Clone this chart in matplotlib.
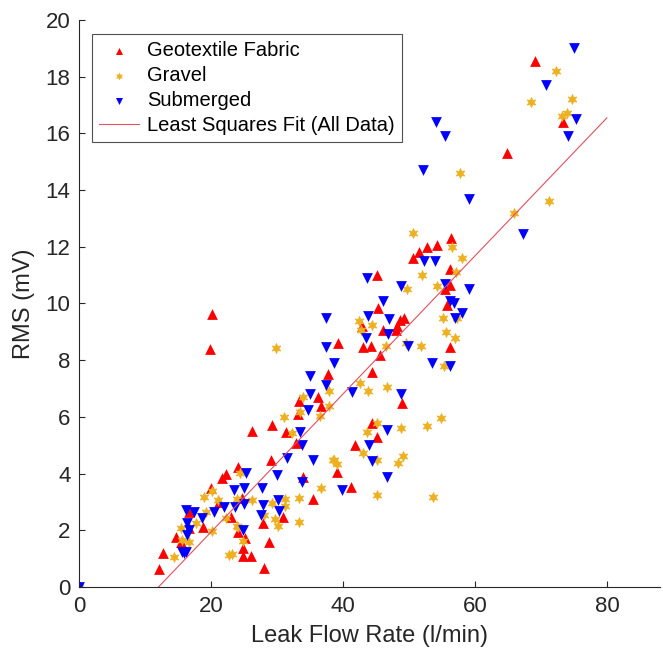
import numpy as np
import matplotlib.pyplot as plt

plt.rcParams['font.family'] = ['Liberation Sans', 'DejaVu Sans']

# Geotextile Fabric
geo_x = [0, 20.2, 19.8, 69.1, 73.3, 64.8, 56.4, 54.2, 52.7, 51.5, 50.6, 56.2, 56.2, 55.5,
         55.8, 56.2, 45.2, 45.3, 49.2, 48.6, 48.2, 48.0, 46.1, 42.9, 43.0, 44.2, 39.2, 45.6,
         44.4, 37.7, 36.2, 48.9, 33.3, 36.7, 33.2, 26.2, 29.2, 31.4, 32.9, 29.1, 24.1, 22.3,
         39.1, 33.9, 21.7, 44.4, 45.2, 41.8, 41.2, 35.5, 24.7, 30.9, 27.9, 23.0, 25.2, 28.8,
         24.8, 24.8, 26.1, 28.0, 24.1, 20.0, 21.2, 18.8, 14.7, 15.5, 12.7, 12.1, 16.7, 16.7]
geo_y = [0, 9.63, 8.4, 18.55, 16.4, 15.3, 12.3, 12.06, 12.0, 11.8, 11.6, 11.2, 10.65, 10.5,
         9.95, 8.47, 11.0, 9.84, 9.5, 9.4, 9.2, 9.07, 9.07, 9.2, 8.47, 8.5, 8.6, 8.2,
         7.6, 7.5, 6.7, 6.5, 6.56, 6.4, 6.1, 5.5, 5.7, 5.47, 5.08, 4.48, 4.23, 3.99,
         4.06, 3.9, 3.85, 5.8, 5.3, 5.0, 3.53, 3.1, 3.14, 2.47, 2.26, 2.47, 1.73, 1.59,
         1.38, 1.09, 1.09, 0.67, 1.94, 3.49, 3.0, 2.12, 1.76, 1.59, 1.2, 0.63, 2.65, 2.1]

# Gravel
grav_x = [0, 72.3, 68.5, 74.7, 73.2, 73.9, 57.7, 71.2, 65.9, 56.5, 58.0, 57.1, 54.2, 55.2,
          55.6, 57.0, 57.3, 50.6, 52.0, 49.7, 42.4, 42.7, 44.4, 46.5, 49.5, 51.8, 55.3, 42.6,
          43.8, 46.7, 37.9, 33.9, 54.8, 52.7, 48.8, 49.1, 48.3, 53.6, 32.3, 43.6, 45.2, 43.0,
          38.6, 39.1, 45.2, 36.7, 45.2, 24.4, 33.3, 31.2, 26.2, 29.2, 31.2, 23.9, 28.0, 29.7,
          30.2, 33.3, 24.1, 24.8, 23.2, 29.8, 33.5, 31.1, 37.9, 36.5, 38.5, 18.9, 20.2, 21.1,
          19.2, 17.7, 22.3, 15.5, 15.6, 16.7, 14.4, 20.2, 22.7, 23.9]
grav_y = [0, 18.2, 17.1, 17.2, 16.6, 16.7, 14.6, 13.6, 13.2, 12.0, 11.6, 11.1, 10.6, 9.5,
          9.0, 8.8, 9.5, 12.5, 11.0, 10.5, 9.38, 9.07, 9.24, 8.5, 8.6, 8.5, 7.8, 7.2,
          6.9, 7.05, 6.9, 6.7, 5.96, 5.68, 5.6, 4.62, 4.37, 3.17, 5.43, 5.47, 5.8, 4.73,
          4.48, 4.34, 4.48, 3.49, 3.24, 4.02, 3.14, 3.1, 3.07, 2.96, 2.86, 3.1, 2.54, 2.4,
          2.15, 2.3, 2.12, 1.62, 1.16, 8.43, 6.17, 6.0, 6.38, 6.03, 4.5, 3.18, 3.39, 3.07,
          2.65, 2.26, 2.43, 2.08, 1.66, 1.59, 1.06, 1.98, 1.13, 2.15]

# Submerged
sub_x = [0, 75.0, 70.8, 75.3, 74.1, 59.1, 67.3, 53.9, 55.5, 59.1, 56.2, 56.8, 58.0, 57.0,
         54.1, 55.5, 52.1, 52.3, 43.6, 48.8, 46.1, 37.4, 43.8, 47.0, 46.8, 43.5, 37.4, 49.8,
         38.6, 53.5, 56.2, 35.0, 37.4, 41.4, 35.0, 48.8, 33.5, 33.8, 31.5, 35.5, 43.9, 46.7,
         44.4, 30.0, 33.8, 46.7, 39.8, 25.3, 27.7, 23.5, 25.0, 23.6, 25.0, 27.9, 30.2, 30.3,
         27.6, 24.8, 34.7, 22.0, 20.5, 18.6, 17.4, 16.2, 16.4, 16.4, 15.6, 16.2, 16.7, 16.0]
sub_y = [0, 19.0, 17.7, 16.5, 15.9, 13.7, 12.45, 11.5, 10.7, 10.5, 10.1, 10.0, 9.67, 9.5,
         16.4, 15.9, 14.7, 11.5, 10.9, 10.6, 10.1, 9.5, 9.56, 9.45, 8.92, 8.8, 8.47, 8.5,
         7.9, 7.9, 7.8, 7.44, 7.13, 6.88, 6.8, 6.8, 5.47, 5.0, 4.55, 4.48, 5.0, 5.54,
         4.44, 3.95, 3.7, 3.88, 3.42, 4.02, 3.49, 3.42, 3.49, 2.82, 2.93, 2.89, 3.07, 2.68,
         2.54, 2.0, 6.24, 2.82, 2.65, 2.43, 2.65, 2.72, 2.26, 1.83, 1.23, 1.23, 2.0, 1.2]

# least squares fit
fit_slope = 0.2434
fit_intercept = -2.93
fit_range = [0, 80]

fig = plt.figure(figsize=(6.63, 6.59), dpi=100)
ax = fig.add_axes([0.119, 0.109, 0.876, 0.861])

hexagram = (6, 1, 0)
ax.scatter(geo_x, geo_y, marker='^', s=60, color='#FF0000', linewidths=0, label='Geotextile Fabric')
ax.scatter(grav_x, grav_y, marker=hexagram, s=55, color='#EDB120', linewidths=0.4,
           edgecolors='#EDB120', label='Gravel')
ax.scatter(sub_x, sub_y, marker='v', s=60, color='#0000FF', linewidths=0, label='Submerged')

fx = np.array(fit_range, dtype=float)
ax.plot(fx, fit_slope * fx + fit_intercept, color='#E05060', lw=0.8,
        label='Least Squares Fit (All Data)')

ax.set_xlim(0, 88)
ax.set_ylim(0, 20)
ax.set_xticks([0, 20, 40, 60, 80])
ax.set_yticks(range(0, 21, 2))

for s in ['top', 'right']:
    ax.spines[s].set_visible(False)
for s in ['left', 'bottom']:
    ax.spines[s].set_color('#262626')
    ax.spines[s].set_linewidth(0.8)
ax.tick_params(direction='in', length=4, width=0.8, colors='#262626', labelsize=16, pad=6)

ax.set_xlabel('Leak Flow Rate (l/min)', fontsize=17, color='#262626', labelpad=6)
ax.set_ylabel('RMS (mV)', fontsize=17, color='#262626', labelpad=8)

leg = ax.legend(loc='upper left', bbox_to_anchor=(0.022, 0.975), fontsize=14.5, frameon=True,
                fancybox=False, edgecolor='#262626', borderpad=0.35, handlelength=2.0,
                handletextpad=0.4, labelspacing=0.3, markerscale=0.65, borderaxespad=0)
leg.get_frame().set_linewidth(0.8)

fig.savefig('out.png', dpi=100)
